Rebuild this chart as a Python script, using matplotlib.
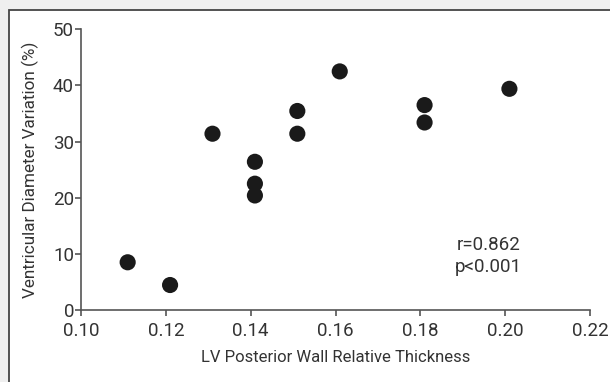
import matplotlib
matplotlib.use('Agg')
import matplotlib.pyplot as plt
from matplotlib.patches import Rectangle

# wall thickness vs diameter variation
thickness = [0.111, 0.121, 0.131, 0.141, 0.141, 0.141, 0.151, 0.151, 0.161, 0.181, 0.181, 0.201]
variation = [8.5, 4.45, 31.4, 26.4, 22.5, 20.4, 35.45, 31.4, 42.5, 36.5, 33.4, 39.4]
xticks = [0.10, 0.12, 0.14, 0.16, 0.18, 0.20, 0.22]
yticks = [0, 10, 20, 30, 40, 50]
stats_text = "r=0.862\np<0.001"

plt.rcParams['font.family'] = ['Roboto', 'DejaVu Sans']
txt = '#333333'
axcol = '#555555'

fig = plt.figure(figsize=(6.1, 3.82), dpi=100)
fig.patch.set_facecolor('#efefef')
# white panel with border on left/top (cropped at right/bottom)
fig.patches.append(Rectangle((9 / 610, -0.1), 1.2, 1 - 10 / 382 + 0.1,
                             transform=fig.transFigure, facecolor='white',
                             edgecolor='#444444', linewidth=1.3, zorder=-5))

ax = fig.add_axes([81 / 610, 1 - 310 / 382, (590 - 81) / 610, (310 - 29.3) / 382])
ax.set_zorder(2)
ax.set_facecolor('none')
ax.scatter(thickness, variation, s=135, color='#1a1a1a', edgecolors='none', clip_on=False, zorder=3)

ax.set_xlim(0.10, 0.22)
ax.set_ylim(0, 50)
ax.set_xticks(xticks)
ax.set_xticklabels(['%.2f' % v for v in xticks])
ax.set_yticks(yticks)

for s in ['top', 'right']:
    ax.spines[s].set_visible(False)
for s in ['left', 'bottom']:
    ax.spines[s].set_color(axcol)
    ax.spines[s].set_linewidth(1.2)
ax.tick_params(axis='both', color=axcol, labelcolor=txt, labelsize=13.5, length=4, width=1.2)
ax.tick_params(axis='x', pad=5)
ax.tick_params(axis='y', pad=1)

ax.set_xlabel('LV Posterior Wall Relative Thickness', fontsize=12, color=txt, labelpad=7)
ax.set_ylabel('Ventricular Diameter Variation (%)', fontsize=12.3, color=txt, labelpad=10)

ax.text(0.196, 9.6, stats_text, ha='center', va='center', fontsize=13.5,
        color=txt, linespacing=1.3)

fig.savefig('out.png', dpi=100, facecolor=fig.get_facecolor())
